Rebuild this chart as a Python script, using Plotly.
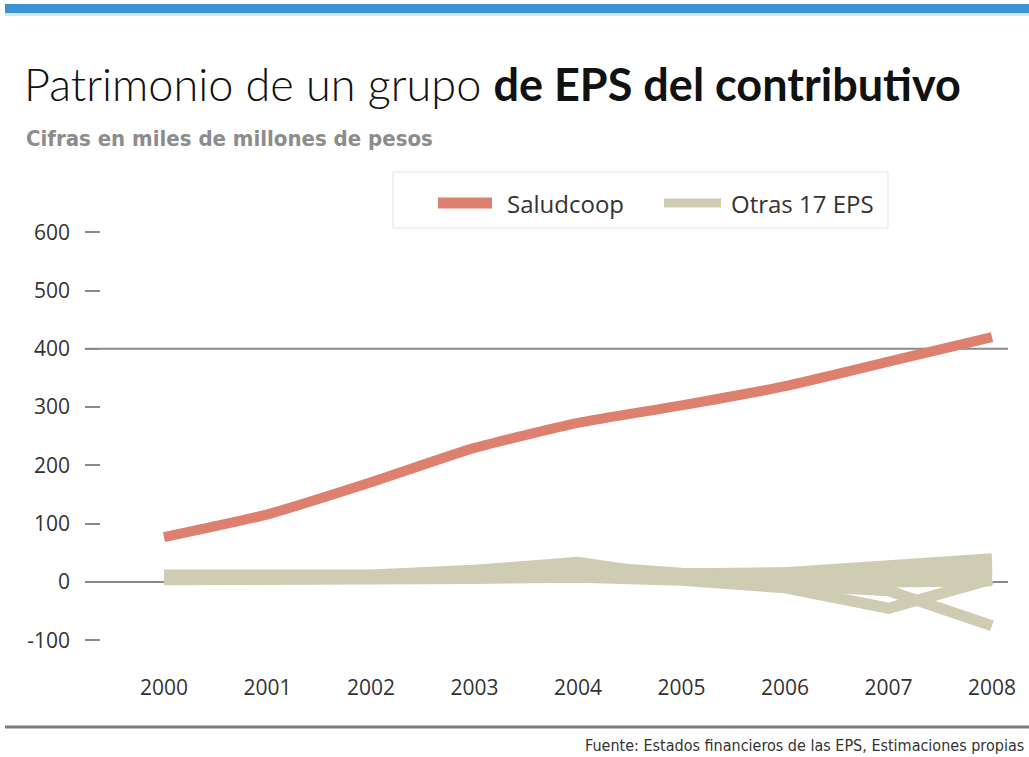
import plotly.graph_objects as go

# ---------------- data ----------------
years = [2000, 2001, 2002, 2003, 2004, 2005, 2006, 2007, 2008]
year_labels = ["2000", "2001", "2002", "2003", "2004", "2005", "2006", "2007", "2008"]

saludcoop = [77, 116, 171, 230, 273, 303, 336, 378, 420]

otras_a = [8, 6, 8, 12, 18, 14, 16, 28, 40]
otras_b = [10, 8, 10, 15, 22, 12, 14, 20, 30]
otras_c = [5, 5, 7, 10, 14, 10, 10, 12, 18]
otras_d = [12, 10, 12, 20, 34, 8, 5, 5, 8]
otras_e = [6, 4, 6, 8, 10, 5, -5, -15, -75]
otras_f = [4, 3, 5, 6, 8, 3, -10, -45, 5]
otras_g = [9, 7, 9, 14, 28, 15, 12, 0, 2]
otras_h = [7, 6, 8, 10, 12, 6, 2, 8, 22]
otras_series = [otras_a, otras_b, otras_c, otras_d, otras_e, otras_f, otras_g, otras_h]

y_ticks = [-100, 0, 100, 200, 300, 400, 500, 600]
y_tick_labels = ["-100", "0", "100", "200", "300", "400", "500", "600"]
ref_lines = [0, 400]

legend_names = ["Saludcoop", "Otras 17 EPS"]

# ---------------- style ----------------
RED = "#dd8070"
BEIGE = "#cfccb4"
W, H = 1029, 757
L, R, T, B = 85, 1008, 215, 660


def px_x(x):
    return (x - L) / (R - L)


def px_y(y):
    return (B - y) / (B - T)


fig = go.Figure()

for s in otras_series:
    fig.add_trace(go.Scatter(x=years, y=s, mode="lines",
                             line=dict(color=BEIGE, width=11),
                             showlegend=False, hoverinfo="skip"))

fig.add_trace(go.Scatter(x=years, y=saludcoop, mode="lines",
                         line=dict(color=RED, width=10, shape="spline", smoothing=0.5),
                         showlegend=False, name=legend_names[0]))

shapes = []
# reference lines at 0 and 400
for v in ref_lines:
    shapes.append(dict(type="line", xref="x domain", yref="y", x0=0, x1=1, y0=v, y1=v,
                       line=dict(color="#8a8a8a", width=2), layer="below"))
# top blue bar
shapes.append(dict(type="rect", xref="paper", yref="paper", x0=px_x(5), x1=px_x(1029),
                   y0=px_y(4), y1=px_y(13), fillcolor="#3b93d3", line=dict(width=0)))
shapes.append(dict(type="rect", xref="paper", yref="paper", x0=px_x(5), x1=px_x(1029),
                   y0=px_y(13), y1=px_y(16), fillcolor="#cfe8f5", line=dict(width=0)))
# bottom rule
shapes.append(dict(type="line", xref="paper", yref="paper", x0=px_x(5), x1=px_x(1029),
                   y0=px_y(727), y1=px_y(727), line=dict(color="#7a7a7a", width=3)))
# legend box
shapes.append(dict(type="rect", xref="paper", yref="paper", x0=px_x(393), x1=px_x(888),
                   y0=px_y(228), y1=px_y(172), line=dict(color="#e4e4e4", width=1),
                   fillcolor="rgba(0,0,0,0)"))
shapes.append(dict(type="line", xref="paper", yref="paper", x0=px_x(438), x1=px_x(492),
                   y0=px_y(203), y1=px_y(203), line=dict(color=RED, width=11)))
shapes.append(dict(type="line", xref="paper", yref="paper", x0=px_x(664), x1=px_x(721),
                   y0=px_y(203), y1=px_y(203), line=dict(color=BEIGE, width=9)))

annotations = [
    dict(xref="paper", yref="paper", x=px_x(22), y=px_y(84), xanchor="left", yanchor="middle",
         showarrow=False,
         text="<span style='font-weight:300'>Patrimonio de un grupo </span><b>de EPS del contributivo</b>",
         font=dict(family="Lato", size=45, color="#111111", weight=300)),
    dict(xref="paper", yref="paper", x=px_x(24), y=px_y(138), xanchor="left", yanchor="middle",
         showarrow=False, text="<b>Cifras en miles de millones de pesos</b>",
         font=dict(family="Liberation Sans Narrow, DejaVu Sans Condensed, sans-serif", size=22,
                   color="#8c8c8c")),
    dict(xref="paper", yref="paper", x=px_x(505), y=px_y(203), xanchor="left", yanchor="middle",
         showarrow=False, text=legend_names[0],
         font=dict(family="Open Sans", size=24, color="#333333")),
    dict(xref="paper", yref="paper", x=px_x(729), y=px_y(203), xanchor="left", yanchor="middle",
         showarrow=False, text=legend_names[1],
         font=dict(family="Open Sans", size=24, color="#333333")),
    dict(xref="paper", yref="paper", x=px_x(1026), y=px_y(745), xanchor="right", yanchor="middle",
         showarrow=False, text="Fuente: Estados financieros de las EPS, Estimaciones propias",
         font=dict(family="Liberation Sans Narrow, DejaVu Sans Condensed, sans-serif", size=16,
                   color="#333333")),
]

x_per_year = (992 - 164) / 8.0
x0 = 2000 - (164 - L) / x_per_year
x1 = 2008 + (R - 992) / x_per_year
y_per_unit = 0.583
ytop = (582 - T) / y_per_unit
ybot = -(B - 582) / y_per_unit

fig.update_layout(
    width=W, height=H,
    margin=dict(l=L, r=W - R, t=T, b=H - B),
    paper_bgcolor="white", plot_bgcolor="white",
    showlegend=False,
    shapes=shapes,
    annotations=annotations,
    xaxis=dict(range=[x0, x1], tickvals=years, ticktext=year_labels, showgrid=False,
               zeroline=False, showline=False, ticks="",
               tickfont=dict(family="Open Sans", size=21, color="#333333"),
               ticklabelstandoff=13, fixedrange=True),
    yaxis=dict(range=[ybot, ytop], tickvals=y_ticks, ticktext=y_tick_labels, showgrid=False,
               zeroline=False, showline=False, ticks="inside", ticklen=15, tickwidth=2,
               tickcolor="#8a8a8a",
               tickfont=dict(family="Open Sans", size=21, color="#333333"),
               ticklabelstandoff=14, fixedrange=True),
)

fig.write_html("out.html")
